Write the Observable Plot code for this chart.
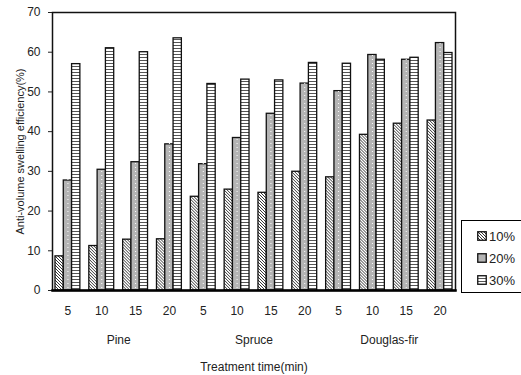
<!DOCTYPE html>
<html><head><meta charset="utf-8">
<script src="https://cdn.jsdelivr.net/npm/d3@7"></script>
<script src="https://cdn.jsdelivr.net/npm/@observablehq/plot@0.6"></script>
<style>
body{margin:0;background:#fff;}
#wrap{position:relative;width:521px;height:375px;font-family:"Liberation Sans",Arial,sans-serif;color:#222;}
#legend{position:absolute;left:461px;top:220px;width:64px;height:73px;border:1px solid #000;box-sizing:border-box;background:#fff;font-size:13px;}
#legend .row{position:absolute;left:15px;height:16px;display:flex;align-items:center;}
#legend svg{margin-right:2px;}
#wrap svg [aria-label="y-axis label"] text{font-size:11px;}
</style></head>
<body><div id="wrap"><div id="legend"></div></div>
<script>
const species = ["Pine", "Spruce", "Douglas-fir"];
const times = [5, 10, 15, 20];
const concentrations = ["10%", "20%", "30%"];
const ase10 = [8.6, 11.2, 12.8, 12.9, 23.6, 25.4, 24.6, 29.9, 28.5, 39.2, 42.0, 42.8];
const ase20 = [27.7, 30.4, 32.3, 36.8, 31.8, 38.4, 44.5, 52.1, 50.2, 59.3, 58.1, 62.3];
const ase30 = [57.0, 61.0, 60.0, 63.5, 52.0, 53.1, 52.9, 57.3, 57.1, 58.1, 58.6, 59.8];
const yTicks = [0, 10, 20, 30, 40, 50, 60, 70];

const keys = [];
species.forEach(s => times.forEach(t => keys.push(s + "|" + t)));
const series = [ase10, ase20, ase30];
const rows = [];
keys.forEach((k, i) => concentrations.forEach((c, j) => rows.push({key: k, conc: c, value: series[j][i]})));
const byConc = c => rows.filter(r => r.conc === c);
const speciesLabels = species.map((s, i) => ({key: keys[i * 4 + 1], name: s}));

const W = 521, H = 375, mL = 52, mR = 66, mT = 12, mB = 85;
const pIn = 0.088;
const step = (W - mL - mR) / (keys.length - pIn);

const fills = {"10%": "url(#hatch)", "20%": "#b4b4b4", "30%": "url(#hstripe)"};

const chart = Plot.plot({
  width: W, height: H,
  marginLeft: mL, marginRight: mR, marginTop: mT, marginBottom: mB,
  style: {fontFamily: '"Liberation Sans", Arial, sans-serif', fontSize: "12px", color: "#222", background: "transparent"},
  fx: {domain: keys, paddingInner: pIn, paddingOuter: 0, round: false, axis: "bottom", tickSize: 0, tickPadding: 16,
       tickFormat: k => k.split("|")[1], label: "Treatment time(min)", labelAnchor: "center", labelOffset: 80, labelArrow: "none"},
  x: {domain: concentrations, axis: null, paddingInner: 0, paddingOuter: 0.36, round: false},
  y: {domain: [0, 70], ticks: yTicks, tickSize: 4, tickPadding: 8, label: "Anti-volume swelling efficiency(%)",
      labelAnchor: "center", labelOffset: 36, labelArrow: "none"},
  marks: [
    ...concentrations.map(c => Plot.barY(byConc(c), {fx: "key", x: "conc", y: "value", fill: fills[c], stroke: "#111", strokeWidth: 1.3})),
    Plot.ruleX(byConc("20%"), {fx: "key", x: "conc", y1: 0, y2: "value", stroke: "#fff", strokeDasharray: "1,3", strokeWidth: 1, insetTop: 2, insetBottom: 2}),
    Plot.text(speciesLabels, {fx: "key", text: "name", frameAnchor: "bottom", lineAnchor: "middle", dy: 50, dx: step / 2}),
    Plot.frame({facet: "super", stroke: "#111", strokeWidth: 1.5}),
    Plot.frame({facet: "super", anchor: "bottom", stroke: "#000", strokeWidth: 2.5})
  ]
});

const defs = `
<pattern id="hatch" patternUnits="userSpaceOnUse" width="3" height="3">
  <rect width="3" height="3" fill="#fff"/>
  <path d="M-1,-1L4,4M-1,2L1,4M2,-1L4,1" stroke="#333" stroke-width="1"/>
</pattern>
<pattern id="hstripe" patternUnits="userSpaceOnUse" width="4" height="3">
  <rect width="4" height="3" fill="#fff"/>
  <path d="M0,0.5H4" stroke="#555" stroke-width="1"/>
</pattern>`;
const svg = chart.tagName.toLowerCase() === "svg" ? chart : chart.querySelector("svg");
const d = document.createElementNS("http://www.w3.org/2000/svg", "defs");
d.innerHTML = defs;
svg.insertBefore(d, svg.firstChild);
document.getElementById("wrap").prepend(chart);

const legend = document.getElementById("legend");
concentrations.forEach((c, i) => {
  const row = document.createElement("div");
  row.className = "row";
  row.style.top = (7 + i * 22) + "px";
  row.innerHTML = `<svg width="10" height="10"><rect x="0.75" y="0.75" width="8.5" height="8.5" fill="${fills[c]}" stroke="#111" stroke-width="1.3"/></svg><span>${c}</span>`;
  legend.appendChild(row);
});
</script>
</body></html>
